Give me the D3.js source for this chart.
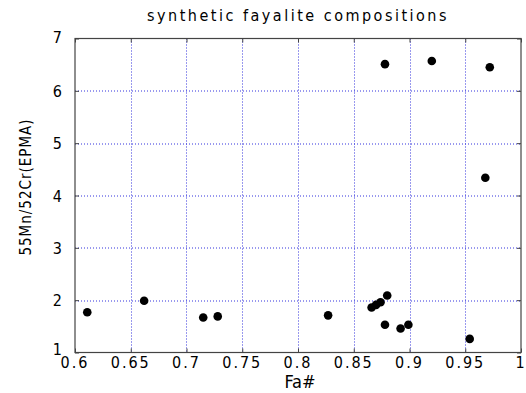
<!DOCTYPE html>
<html lang="en">
<head>
<meta charset="UTF-8">
<title>synthetic fayalite compositions</title>
<script src="https://d3js.org/d3.v7.min.js"></script>
<style>
  body { margin: 0; background: #fff; }
  text { font-family: "Liberation Sans Narrow", "DejaVu Sans Condensed", sans-serif; fill: #000; }
  .tick-label { font-size: 16px; letter-spacing: 2px; }
  .grid line { stroke: #3333dd; stroke-width: 1; stroke-dasharray: 1,2; }
</style>
</head>
<body>
<div id="chart"></div>
<script>
// Fa# vs 55Mn/52Cr (EPMA)
const faNumber = [0.611, 0.662, 0.715, 0.728, 0.827, 0.866, 0.870, 0.874, 0.880, 0.878, 0.892, 0.899, 0.954, 0.878, 0.920, 0.972, 0.968];
const mnCrRatio = [1.77, 1.99, 1.67, 1.69, 1.71, 1.86, 1.91, 1.96, 2.09, 1.53, 1.46, 1.53, 1.26, 6.51, 6.57, 6.45, 4.34];
const xTicks = [0.6, 0.65, 0.7, 0.75, 0.8, 0.85, 0.9, 0.95, 1];
const yTicks = [1, 2, 3, 4, 5, 6, 7];

const W = 526, H = 393;
const margin = { top: 38.5, right: 5, bottom: 40.5, left: 75 };
const width = W - margin.left - margin.right;
const height = H - margin.top - margin.bottom;

const svg = d3.select("#chart").append("svg")
  .attr("width", W).attr("height", H);

const g = svg.append("g").attr("transform", `translate(${margin.left},${margin.top})`);

const x = d3.scaleLinear().domain([0.6, 1]).range([0, width]);
const y = d3.scaleLinear().domain([1, 7]).range([height, 0]);

// dotted grid
g.append("g").attr("class", "grid")
  .selectAll("line.vx").data(xTicks.slice(1, -1)).join("line")
  .attr("x1", d => Math.round(x(d)) + 0.5).attr("x2", d => Math.round(x(d)) + 0.5)
  .attr("y1", 0).attr("y2", height);
g.append("g").attr("class", "grid")
  .selectAll("line.hy").data(yTicks.slice(1, -1)).join("line")
  .attr("x1", 0).attr("x2", width)
  .attr("y1", d => Math.round(y(d)) + 0.5).attr("y2", d => Math.round(y(d)) + 0.5);

// box
g.append("rect").attr("x", 0).attr("y", 0).attr("width", width).attr("height", height)
  .attr("fill", "none").attr("stroke", "#444").attr("stroke-width", 1.2);

// inward tick marks on all sides
const tl = 4;
g.append("g").attr("transform", `translate(0,${height})`)
  .call(d3.axisBottom(x).tickValues(xTicks).tickSize(-tl).tickFormat(""))
  .call(a => a.select(".domain").remove());
g.append("g")
  .call(d3.axisTop(x).tickValues(xTicks).tickSize(-tl).tickFormat(""))
  .call(a => a.select(".domain").remove());
g.append("g")
  .call(d3.axisLeft(y).tickValues(yTicks).tickSize(-tl).tickFormat(""))
  .call(a => a.select(".domain").remove());
g.append("g").attr("transform", `translate(${width},0)`)
  .call(d3.axisRight(y).tickValues(yTicks).tickSize(-tl).tickFormat(""))
  .call(a => a.select(".domain").remove());
g.selectAll(".tick line").attr("stroke", "#444");

// tick labels
g.selectAll("text.xl").data(xTicks).join("text")
  .attr("class", "tick-label")
  .attr("x", d => x(d)).attr("y", height + 15)
  .attr("text-anchor", "middle")
  .text(d => d3.format("")(d));
g.selectAll("text.yl").data(yTicks).join("text")
  .attr("class", "tick-label")
  .attr("x", -11).attr("y", d => y(d) + (d === 1 ? 2 : d === 7 ? 4 : 6))
  .attr("text-anchor", "end")
  .text(d => d);

// points
g.selectAll("circle.pt").data(faNumber).join("circle")
  .attr("cx", d => x(d))
  .attr("cy", (d, i) => y(mnCrRatio[i]))
  .attr("r", 4.3)
  .attr("fill", "#000");

// titles
svg.append("text")
  .attr("x", margin.left + width / 2).attr("y", 21)
  .attr("text-anchor", "middle")
  .style("font-size", "16px").style("letter-spacing", "2.5px")
  .text("synthetic fayalite compositions");

svg.append("text")
  .attr("x", 300).attr("y", 388)
  .attr("text-anchor", "middle")
  .style("font-size", "18px")
  .text("Fa#");

svg.append("text")
  .attr("transform", `translate(31,187) rotate(-90)`)
  .attr("text-anchor", "middle")
  .style("font-size", "15px").style("letter-spacing", "1px")
  .text("55Mn/52Cr(EPMA)");
</script>
</body>
</html>
